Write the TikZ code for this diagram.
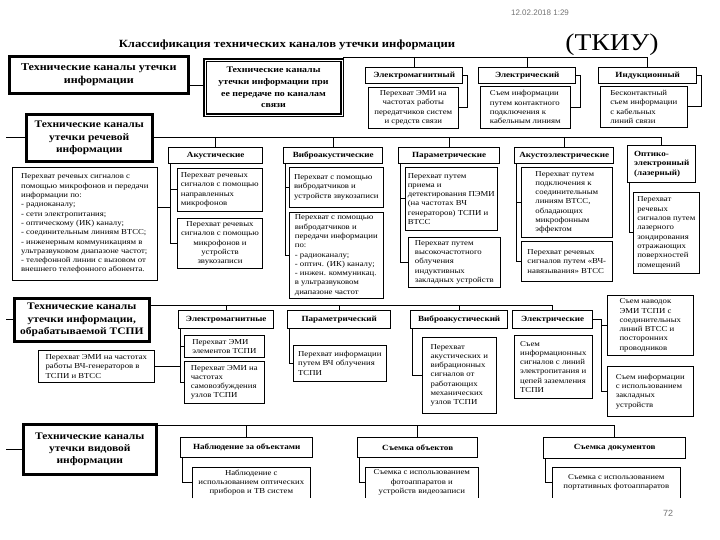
\documentclass[tikz,border=0pt]{standalone}
\usepackage{fontspec}
\setmainfont[FakeStretch=1.15]{Liberation Serif}
\newfontfamily\datefont{Liberation Sans}
\usetikzlibrary{positioning}

\begin{document}
\begin{tikzpicture}[
  x=1pt, y=-1pt,
  cat/.style={draw, line width=2.6pt, align=center, anchor=north west, inner sep=2pt, font=\fontsize{10}{12.3}\selectfont\bfseries},
  hdr/.style={draw, line width=1.4pt, align=center, anchor=north west, inner sep=1.5pt, font=\fontsize{7.9}{9.2}\selectfont\bfseries},
  sub/.style={draw, line width=0.6pt, align=left, anchor=north west, inner sep=2.5pt, font=\fontsize{7.6}{9.3}\selectfont},
  subc/.style={sub, align=center},
  opensub/.style={sub, draw=none, align=center},
  link/.style={line width=0.7pt},
  bus/.style={line width=0.9pt}
]
\useasboundingbox (0,0) rectangle (720,540);

\node[font=\datefont\fontsize{8}{9}\selectfont, text=black!55] (date) at (540,13) {12.02.2018 1:29};
\node[font=\fontsize{11}{13}\selectfont\bfseries] (title) at (287,45) {Классификация технических каналов утечки информации};
\node[font=\fontsize{24}{26}\selectfont] (abbr) at (612,45) {(ТКИУ)};
\node[font=\datefont\fontsize{9}{10}\selectfont, text=black!55] (page) at (668,513) {72};

\node[cat, font=\fontsize{10.5}{12.5}\selectfont\bfseries, minimum width=179, minimum height=37] (top) at (8,55) {Технические каналы утечки\\информации};
\node[cat, line width=2pt, double=white, double distance=0.7pt, font=\fontsize{8.6}{11.8}\selectfont\bfseries, minimum width=137, minimum height=55] (trans) at (204,59) {Технические каналы\\утечки информации при\\ее передаче по каналам\\связи};

\node[hdr, minimum width=97, minimum height=16] (em1h) at (365,67) {Электромагнитный};
\node[hdr, minimum width=97, minimum height=16] (el1h) at (478,67) {Электрический};
\node[hdr, minimum width=98, minimum height=16] (in1h) at (598,67) {Индукционный};
\node[subc, minimum width=90, minimum height=41] (em1s) at (368,87) {Перехват ЭМИ на\\частотах работы\\передатчиков систем\\и средств связи};
\node[sub, minimum width=90, minimum height=42] (el1s) at (480,86) {Съем информации\\путем контактного\\подключения к\\кабельным линиям};
\node[sub, minimum width=87, minimum height=41] (in1s) at (600,86) {Бесконтактный\\съем информации\\с кабельных\\линий связи};

\node[cat, minimum width=126, minimum height=47] (sp) at (25,113) {Технические каналы\\утечки речевой\\информации};
\node[sub, minimum width=145, minimum height=113] (sps) at (12,167) {Перехват речевых сигналов с\\помощью микрофонов и передачи\\информации по:\\- радиоканалу;\\- сети электропитания;\\- оптическому (ИК) каналу;\\- соединительным линиям ВТСС;\\- инженерным коммуникациям в\\ультразвуковом диапазоне частот;\\- телефонной линии с вызовом от\\внешнего телефонного абонента.};
\node[hdr, minimum width=94, minimum height=16] (ach) at (168,147) {Акустические};
\node[hdr, minimum width=99, minimum height=16] (vbh) at (283,147) {Виброакустические};
\node[hdr, minimum width=101, minimum height=16] (pah) at (398,147) {Параметрические};
\node[hdr, minimum width=99, minimum height=16] (aeh) at (514,147) {Акустоэлектрические};
\node[hdr, align=left, minimum width=68, minimum height=37] (oph) at (627,145) {Оптико-\\электронный\\(лазерный)};
\node[sub, minimum width=85, minimum height=43] (ac1) at (177,168) {Перехват речевых\\сигналов с помощью\\направленных\\микрофонов};
\node[subc, line width=1pt, minimum width=85, minimum height=50] (ac2) at (177,218) {Перехват речевых\\сигналов с помощью\\микрофонов и\\устройств\\звукозаписи};
\node[sub, minimum width=94, minimum height=40] (vb1) at (289,167) {Перехват с помощью\\вибродатчиков и\\устройств звукозаписи};
\node[sub, minimum width=94, minimum height=86] (vb2) at (289,212) {Перехват с помощью\\вибродатчиков и\\передачи информации\\по:\\- радиоканалу;\\- оптич. (ИК) каналу;\\- инжен. коммуникац.\\в ультразвуковом\\диапазоне частот};
\node[sub, minimum width=92, minimum height=63] (pa1) at (405,167) {Перехват путем\\приема и\\детектирования ПЭМИ\\(на частотах ВЧ\\генераторов) ТСПИ и\\ВТСС};
\node[sub, minimum width=92, minimum height=50] (pa2) at (408,237) {Перехват путем\\высокочастотного\\облучения\\индуктивных\\закладных устройств};
\node[sub, minimum width=91, minimum height=70] (ae1) at (521,167) {Перехват путем\\подключения к\\соединительным\\линиям ВТСС,\\обладающих\\микрофонным\\эффектом};
\node[sub, minimum width=91, minimum height=40] (ae2) at (521,241) {Перехват речевых\\сигналов путем «ВЧ-\\навязывания» ВТСС};
\node[sub, minimum width=66, minimum height=81] (op1) at (633,192) {Перехват\\речевых\\сигналов путем\\лазерного\\зондирования\\отражающих\\поверхностей\\помещений};

\node[cat, minimum width=135, minimum height=43] (ts) at (13,297) {Технические каналы\\утечки информации,\\обрабатываемой ТСПИ};
\node[sub, minimum width=116, minimum height=32] (tss) at (38,350) {Перехват ЭМИ на частотах\\работы ВЧ-генераторов в\\ТСПИ и ВТСС};
\node[hdr, minimum width=95, minimum height=18] (em3h) at (178,310) {Электромагнитные};
\node[hdr, minimum width=103, minimum height=18] (pa3h) at (287,310) {Параметрический};
\node[hdr, minimum width=97, minimum height=18] (vb3h) at (410,310) {Виброакустический};
\node[hdr, minimum width=80, minimum height=18] (el3h) at (512,310) {Электрические};
\node[sub, minimum width=80, minimum height=22] (em31) at (184,335) {Перехват ЭМИ\\элементов ТСПИ};
\node[sub, minimum width=80, minimum height=42] (em32) at (184,361) {Перехват ЭМИ на\\частотах\\самовозбуждения\\узлов ТСПИ};
\node[sub, minimum width=93, minimum height=36] (pa31) at (293,345) {Перехват информации\\путем ВЧ облучения\\ТСПИ};
\node[sub, minimum width=74, minimum height=76] (vb31) at (422,337) {Перехват\\акустических и\\вибрационных\\сигналов от\\работающих\\механических\\узлов ТСПИ};
\node[sub, minimum width=78, minimum height=63] (el31) at (514,335) {Съем\\информационных\\сигналов с линий\\электропитания и\\цепей заземления\\ТСПИ};
\node[sub, minimum width=86, minimum height=60] (r1) at (607,295) {Съем наводок\\ЭМИ ТСПИ с\\соединительных\\линий ВТСС и\\посторонних\\проводников};
\node[sub, minimum width=86, minimum height=50] (r2) at (607,366) {Съем информации\\с использованием\\закладных\\устройств};

\node[cat, minimum width=133, minimum height=50] (vd) at (22,423) {Технические каналы\\утечки видовой\\информации};
\node[hdr, minimum width=132, minimum height=20] (obh) at (180,437) {Наблюдение за объектами};
\node[hdr, minimum width=120, minimum height=20] (soh) at (357,437) {Съемка объектов};
\node[hdr, minimum width=142, minimum height=21] (sdh) at (543,437) {Съемка документов};
\node[opensub, minimum width=118, minimum height=30] (ob1) at (192,467) {Наблюдение с\\использованием оптических\\приборов и ТВ систем};
\node[opensub, minimum width=113, minimum height=30] (so1) at (365,467) {Съемка с использованием\\фотоаппаратов и\\устройств видеозаписи};
\node[opensub, minimum width=128, minimum height=30] (sd1) at (552,467) {Съемка с использованием\\портативных фотоаппаратов};

\coordinate (lft) at (6,0);
\coordinate (tl) at ([yshift=-11pt]top.east);
\coordinate (bus1) at ([yshift=2pt]trans.north east);
\coordinate (spc) at ([yshift=16pt]sps.east);
\coordinate (bus3) at ([yshift=-8pt]ts.north east);
\coordinate (bus4) at ([yshift=-2pt]vd.north east);

\draw[link] (tl) -- (tl -| trans.west);
\draw[bus] (bus1) -- (bus1 -| in1h.north);
\foreach \h in {em1h, el1h, in1h}
  \draw[link] (\h.north) -- (\h.north |- bus1);
\foreach \h/\s in {em1h/em1s, el1h/el1s, in1h/in1s}
  \draw[link] (\h.east) -- ++(4,0) |- (\s.east);

\draw[link] (sp.west) -- (sp.west -| lft);
\draw[bus] (sp.east) -- (sp.east -| oph.north);
\foreach \h in {ach, vbh, pah, aeh, oph}
  \draw[link] (\h.north) -- (\h.north |- sp.east);
\foreach \h/\s in {ach/ac1, ach/ac2, vbh/vb1, vbh/vb2, pah/pa1, pah/pa2, aeh/ae1, aeh/ae2, oph/op1}
  \draw[link] ([xshift=2pt]\h.south west) |- (\s.west);
\draw[link] (spc) -- ([xshift=2pt]ach.south west |- spc);

\draw[link] (ts.west) -- (ts.west -| lft);
\draw[bus] (bus3) -- (bus3 -| el3h.north);
\foreach \h in {em3h, pa3h, vb3h, el3h}
  \draw[link] (\h.north) -- (\h.north |- bus3);
\foreach \h/\s in {em3h/em31, em3h/em32, pa3h/pa31, vb3h/vb31}
  \draw[link] ([xshift=2pt]\h.south west) |- (\s.west);
\draw[link] (tss.east) -- ([xshift=2pt]em3h.south west |- tss.east);
\draw[link] (el3h.east) -- ++(8,0) |- (r1.west);
\draw[link] (el3h.east) -- ++(8,0) |- (r2.west);

\draw[link] (vd.west) -- (vd.west -| lft);
\draw[bus] (bus4) -- (bus4 -| sdh.north);
\foreach \h in {obh, soh, sdh}
  \draw[link] (\h.north) -- (\h.north |- bus4);
\foreach \h/\s in {obh/ob1, soh/so1, sdh/sd1}
  \draw[link] ([xshift=2pt]\h.south west) |- (\s.west);
\foreach \b in {ob1, so1, sd1}
  \draw[link] (\b.south west) |- (\b.north east) -- (\b.south east);
\end{tikzpicture}
\end{document}
